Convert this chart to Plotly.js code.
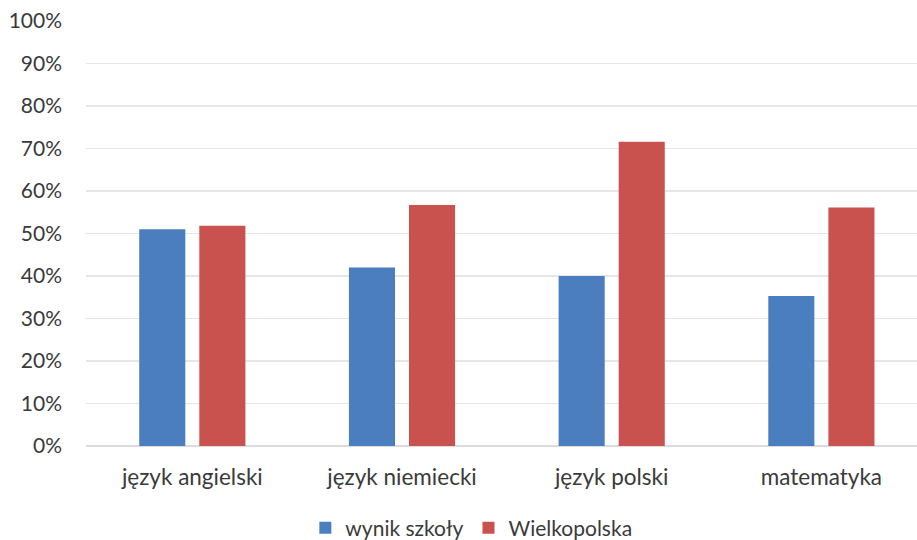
<!DOCTYPE html>
<html><head><meta charset="utf-8">
<script src="https://cdn.plot.ly/plotly-3.0.1.min.js"></script>
<style>html,body{margin:0;padding:0;background:#fff}#chart{width:917px;height:540px}</style>
</head><body><div id="chart"></div>
<script>
const categories = ["język angielski", "język niemiecki", "język polski", "matematyka"];
const szkola = [0.51, 0.42, 0.40, 0.353];
const wielkopolska = [0.518, 0.567, 0.716, 0.561];
const seriesNames = ["wynik szkoły", "Wielkopolska"];
const yTicks = [0, 0.1, 0.2, 0.3, 0.4, 0.5, 0.6, 0.7, 0.8, 0.9, 1.0];

const yfont = {family: "Lato, 'Open Sans', sans-serif", size: 21, color: "#3a3a3a"};
const xfont = {family: "Lato, 'Open Sans', sans-serif", size: 22.5, color: "#3a3a3a"};
const lfont = {family: "Lato, 'Open Sans', sans-serif", size: 21, color: "#3a3a3a"};
const data = [
  {type: "bar", x: categories, y: szkola, name: seriesNames[0], marker: {color: "#4A7EBE"}, hoverinfo: "skip"},
  {type: "bar", x: categories, y: wielkopolska, name: seriesNames[1], marker: {color: "#C9524F"}, hoverinfo: "skip"}
];
const layout = {
  width: 917, height: 540,
  margin: {l: 86, r: 0, t: 21, b: 94},
  paper_bgcolor: "#fff", plot_bgcolor: "#fff",
  font: yfont,
  barmode: "group", bargap: 0.427, bargroupgap: 0.233,
  xaxis: {type: "category", range: [-0.507, 3.456], showgrid: false, zeroline: false, showline: false, ticks: "", ticklabelstandoff: 15, tickfont: xfont},
  yaxis: {range: [0, 1], tickvals: yTicks, tickformat: ".0%", showgrid: true, gridcolor: "#e6e6e6", gridwidth: 1.5, zeroline: true, zerolinecolor: "#dcdcdc", zerolinewidth: 1.5, showline: false, ticks: "", ticklabelstandoff: 23, tickfont: yfont},
  showlegend: true,
  legend: {orientation: "h", xref: "container", yref: "container", x: 0.514, xanchor: "center", y: 0.022, yanchor: "middle", font: lfont, itemwidth: 30, traceorder: "normal"}
};
Plotly.newPlot("chart", data, layout, {staticPlot: true, displayModeBar: false});
</script></body></html>
